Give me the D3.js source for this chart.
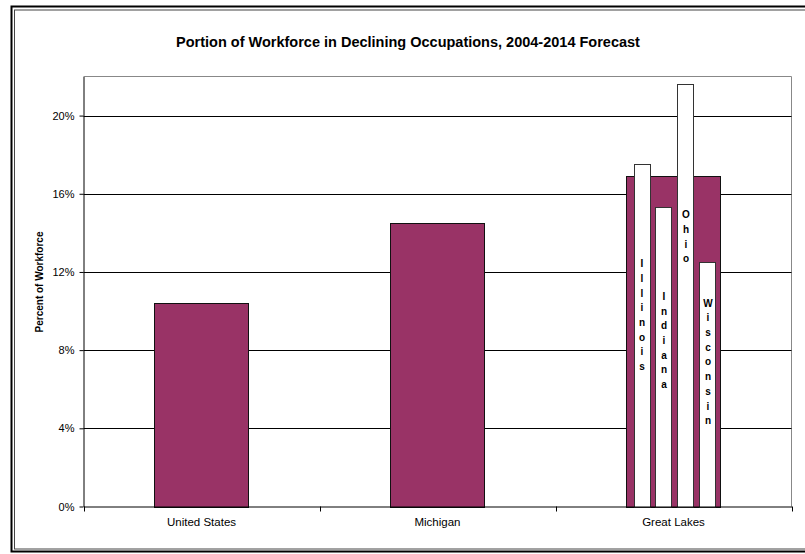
<!DOCTYPE html>
<html>
<head>
<meta charset="utf-8">
<script src="https://cdn.jsdelivr.net/npm/d3@7"></script>
<style>
  html, body { margin: 0; padding: 0; background: #fff; }
  svg { display: block; font-family: "Liberation Sans", Arial, sans-serif; }
</style>
</head>
<body>
<script>
// Regions and their share of workforce in declining occupations
const categories = ["United States", "Michigan", "Great Lakes"];
const shareDeclining = [0.104, 0.145, 0.169];

// Great Lakes states, drawn as narrow bars inside the Great Lakes column
const states = ["Illinois", "Indiana", "Ohio", "Wisconsin"];
const stateShare = [0.175, 0.153, 0.216, 0.125];

// Value axis
const yTicks = [0, 0.04, 0.08, 0.12, 0.16, 0.20];
const yMax = 0.22;

const W = 805, H = 554;
const plot = { left: 83.5, right: 791.5, top: 76.5, bottom: 506.5 };

// Where the vertical state names sit (value-axis units of the text middle)
const stateLabelMid = { Illinois: 0.098, Indiana: 0.085, Ohio: 0.138, Wisconsin: 0.074 };

const svg = d3.select("body").append("svg")
  .attr("width", W).attr("height", H);

// Chart frame (double border)
svg.append("rect")
  .attr("x", 11.5).attr("y", 6.5).attr("width", W).attr("height", 545)
  .attr("fill", "none").attr("stroke", "#000").attr("stroke-width", 2);
svg.append("rect")
  .attr("x", 14.5).attr("y", 10).attr("width", W).attr("height", 539)
  .attr("fill", "none").attr("stroke", "#444").attr("stroke-width", 1);

// Scales
const xCat = d3.scaleBand().domain(categories).range([plot.left, plot.right]).padding(0);
const xBar = xCat.copy().paddingInner(0.6).paddingOuter(0.3);
const y = d3.scaleLinear().domain([0, yMax]).range([plot.bottom, plot.top]);

// Title
svg.append("text")
  .attr("x", 408).attr("y", 47)
  .attr("text-anchor", "middle")
  .attr("font-size", "14.5px").attr("font-weight", "bold")
  .text("Portion of Workforce in Declining Occupations, 2004-2014 Forecast");

// Plot area border (top and right)
svg.append("path")
  .attr("d", `M${plot.left},${plot.top}H${plot.right}V${plot.bottom}`)
  .attr("fill", "none").attr("stroke", "#888").attr("stroke-width", 1);

// Horizontal gridlines
svg.append("g").selectAll("line")
  .data(yTicks.filter(d => d > 0))
  .join("line")
  .attr("x1", plot.left).attr("x2", plot.right)
  .attr("y1", d => Math.round(y(d)) + 0.5).attr("y2", d => Math.round(y(d)) + 0.5)
  .attr("stroke", "#000").attr("stroke-width", 1);

// Regional bars
svg.append("g").selectAll("rect")
  .data(categories.map((c, i) => ({ c, v: shareDeclining[i] })))
  .join("rect")
  .attr("x", d => Math.round(xBar(d.c)) + 0.5)
  .attr("y", d => Math.round(y(d.v)) + 0.5)
  .attr("width", Math.round(xBar.bandwidth()))
  .attr("height", d => Math.round(y(0)) - Math.round(y(d.v)))
  .attr("fill", "#993366")
  .attr("stroke", "#111").attr("stroke-width", 1);

// State bars inside the Great Lakes column
const glCentre = xCat("Great Lakes") + xCat.bandwidth() / 2;
const xState = d3.scaleBand().domain(states)
  .range([glCentre - 40, glCentre + 42])
  .paddingInner(0.2727).paddingOuter(0);

const stateData = states.map((s, i) => ({ s, v: stateShare[i] }));

svg.append("g").selectAll("rect")
  .data(stateData)
  .join("rect")
  .attr("x", d => Math.round(xState(d.s)) + 0.5)
  .attr("y", d => Math.round(y(d.v)) + 0.5)
  .attr("width", Math.round(xState.bandwidth()))
  .attr("height", d => Math.round(y(0)) - Math.round(y(d.v)))
  .attr("fill", "#fff")
  .attr("stroke", "#333").attr("stroke-width", 1);

// Vertical, letter-stacked state names
const lineStep = 14.7;
const labelG = svg.append("g")
  .attr("font-size", "10px").attr("font-weight", "bold")
  .attr("text-anchor", "middle");
stateData.forEach(d => {
  const letters = d.s.split("");
  const cx = xState(d.s) + xState.bandwidth() / 2 + 0.5;
  const mid = y(stateLabelMid[d.s]);
  const first = mid - (letters.length - 1) * lineStep / 2 + 3.6;
  labelG.append("text")
    .selectAll("tspan")
    .data(letters)
    .join("tspan")
    .attr("x", cx)
    .attr("y", (l, i) => first + i * lineStep)
    .text(l => l);
});

// Value axis
const yAxis = svg.append("g")
  .attr("transform", `translate(${plot.left},0)`)
  .call(d3.axisLeft(y).tickValues(yTicks).tickFormat(d3.format(".0%")).tickSize(4).tickSizeOuter(0).tickPadding(5));
yAxis.select(".domain").attr("stroke", "#000");
yAxis.selectAll(".tick line").attr("stroke", "#000");
yAxis.selectAll(".tick text")
  .attr("font-family", "Liberation Sans, Arial, sans-serif")
  .attr("font-size", "11px").attr("fill", "#000");

// Category axis: labels at centres, ticks at category boundaries
const xAxis = svg.append("g")
  .attr("transform", `translate(0,${plot.bottom})`)
  .call(d3.axisBottom(xCat).tickSize(0).tickPadding(11));
xAxis.select(".domain").attr("stroke", "#000");
xAxis.selectAll(".tick text")
  .attr("font-family", "Liberation Sans, Arial, sans-serif")
  .attr("font-size", "11.5px").attr("fill", "#000");

const boundaries = categories.map(c => xCat(c)).concat([plot.right]);
svg.append("g").selectAll("line")
  .data(boundaries)
  .join("line")
  .attr("x1", d => Math.round(d) + 0.5).attr("x2", d => Math.round(d) + 0.5)
  .attr("y1", plot.bottom).attr("y2", plot.bottom + 5)
  .attr("stroke", "#000");

// Value axis title
svg.append("text")
  .attr("transform", "translate(43,282) rotate(-90)")
  .attr("text-anchor", "middle")
  .attr("font-size", "10px").attr("font-weight", "bold")
  .text("Percent of Workforce");
</script>
</body>
</html>
